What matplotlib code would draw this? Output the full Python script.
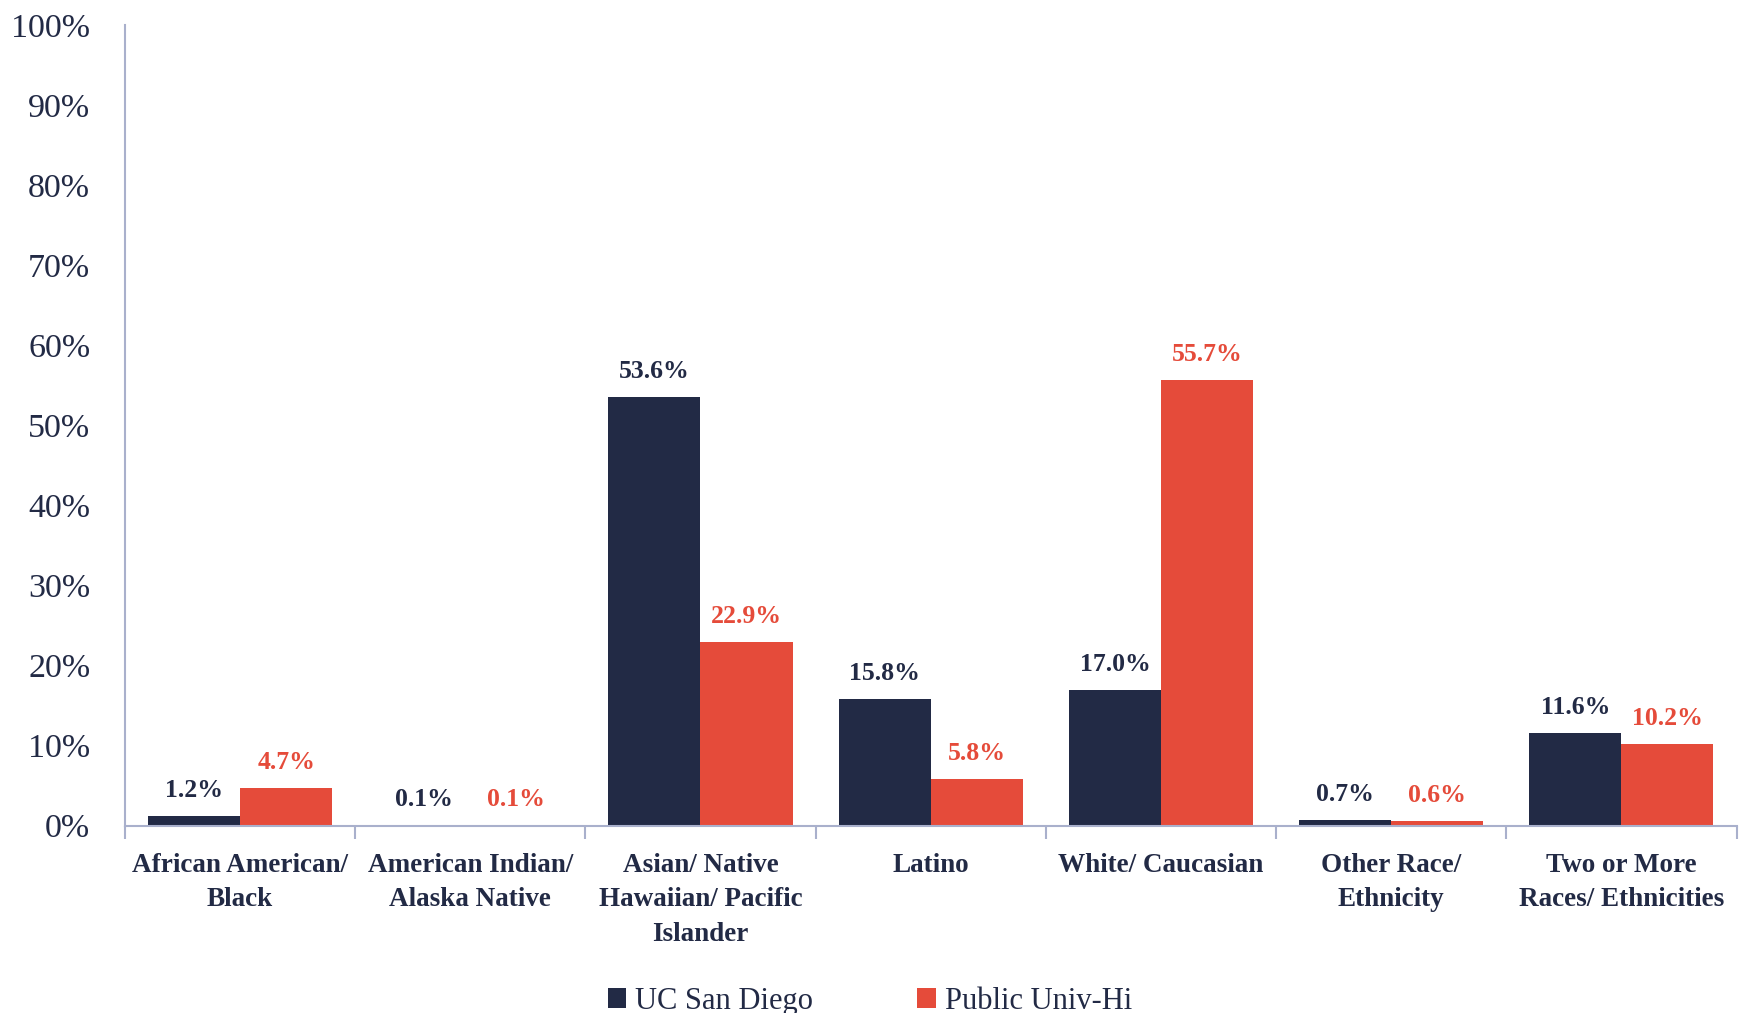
import matplotlib
matplotlib.use("Agg")
import matplotlib.pyplot as plt
import numpy as np
from matplotlib.ticker import FixedLocator, FuncFormatter

plt.rcParams['font.family'] = ['Liberation Serif', 'DejaVu Serif']

categories = ["African American/\nBlack", "American Indian/\nAlaska Native",
              "Asian/ Native\nHawaiian/ Pacific\nIslander", "Latino",
              "White/ Caucasian", "Other Race/\nEthnicity",
              "Two or More\nRaces/ Ethnicities"]
ucsd = [1.2, 0.1, 53.6, 15.8, 17.0, 0.7, 11.6]
public_hi = [4.7, 0.1, 22.9, 5.8, 55.7, 0.6, 10.2]
series_names = ["UC San Diego", "Public Univ-Hi"]
yticks = [0, 10, 20, 30, 40, 50, 60, 70, 80, 90, 100]

navy = "#222A45"
red = "#E54B3A"
axis_col = "#A9B0CC"

fig = plt.figure(figsize=(17.4, 10.13), dpi=100)
ax = fig.add_axes([0.0718, 0.185, 0.9262, 0.79])

x = np.arange(len(categories))
w = 0.4
b1 = ax.bar(x - w/2, ucsd, w, color=navy, label=series_names[0])
b2 = ax.bar(x + w/2, public_hi, w, color=red, label=series_names[1])

for rect, v in zip(b1, ucsd):
    ax.annotate(f"{v:.1f}%", (rect.get_x() + rect.get_width()/2, v),
                xytext=(0, 10), textcoords="offset points", ha="center", va="bottom",
                fontsize=18.5, fontweight="bold", color=navy)
for rect, v in zip(b2, public_hi):
    ax.annotate(f"{v:.1f}%", (rect.get_x() + rect.get_width()/2, v),
                xytext=(0, 10), textcoords="offset points", ha="center", va="bottom",
                fontsize=18.5, fontweight="bold", color=red)

ax.set_xlim(-0.5, len(categories) - 0.5)
ax.set_ylim(0, 100)
ax.set_yticks(yticks)
ax.yaxis.set_major_formatter(FuncFormatter(lambda v, p: f"{v:.0f}%"))
ax.tick_params(axis='y', length=0, labelsize=24.5, labelcolor=navy, pad=25)

ax.set_xticks(x)
ax.set_xticklabels(categories, fontsize=19.5, fontweight="bold", color=navy, linespacing=1.48)
ax.tick_params(axis='x', which='major', length=0, pad=20)
ax.xaxis.set_minor_locator(FixedLocator(np.arange(-0.5, len(categories), 1.0)))
ax.tick_params(axis='x', which='minor', length=9, width=1.5, color=axis_col, direction='out')

for s in ['top', 'right']:
    ax.spines[s].set_visible(False)
for s in ['left', 'bottom']:
    ax.spines[s].set_color(axis_col)
    ax.spines[s].set_linewidth(1.5)

leg = fig.legend(handles=[b1, b2], labels=series_names, loc='lower center',
                 bbox_to_anchor=(0.5, -0.03), ncol=2, frameon=False,
                 fontsize=22, handlelength=0.6, handleheight=0.6, handletextpad=0.3,
                 columnspacing=3.4)
for t in leg.get_texts():
    t.set_color(navy)

fig.savefig("out.png", dpi=100)
